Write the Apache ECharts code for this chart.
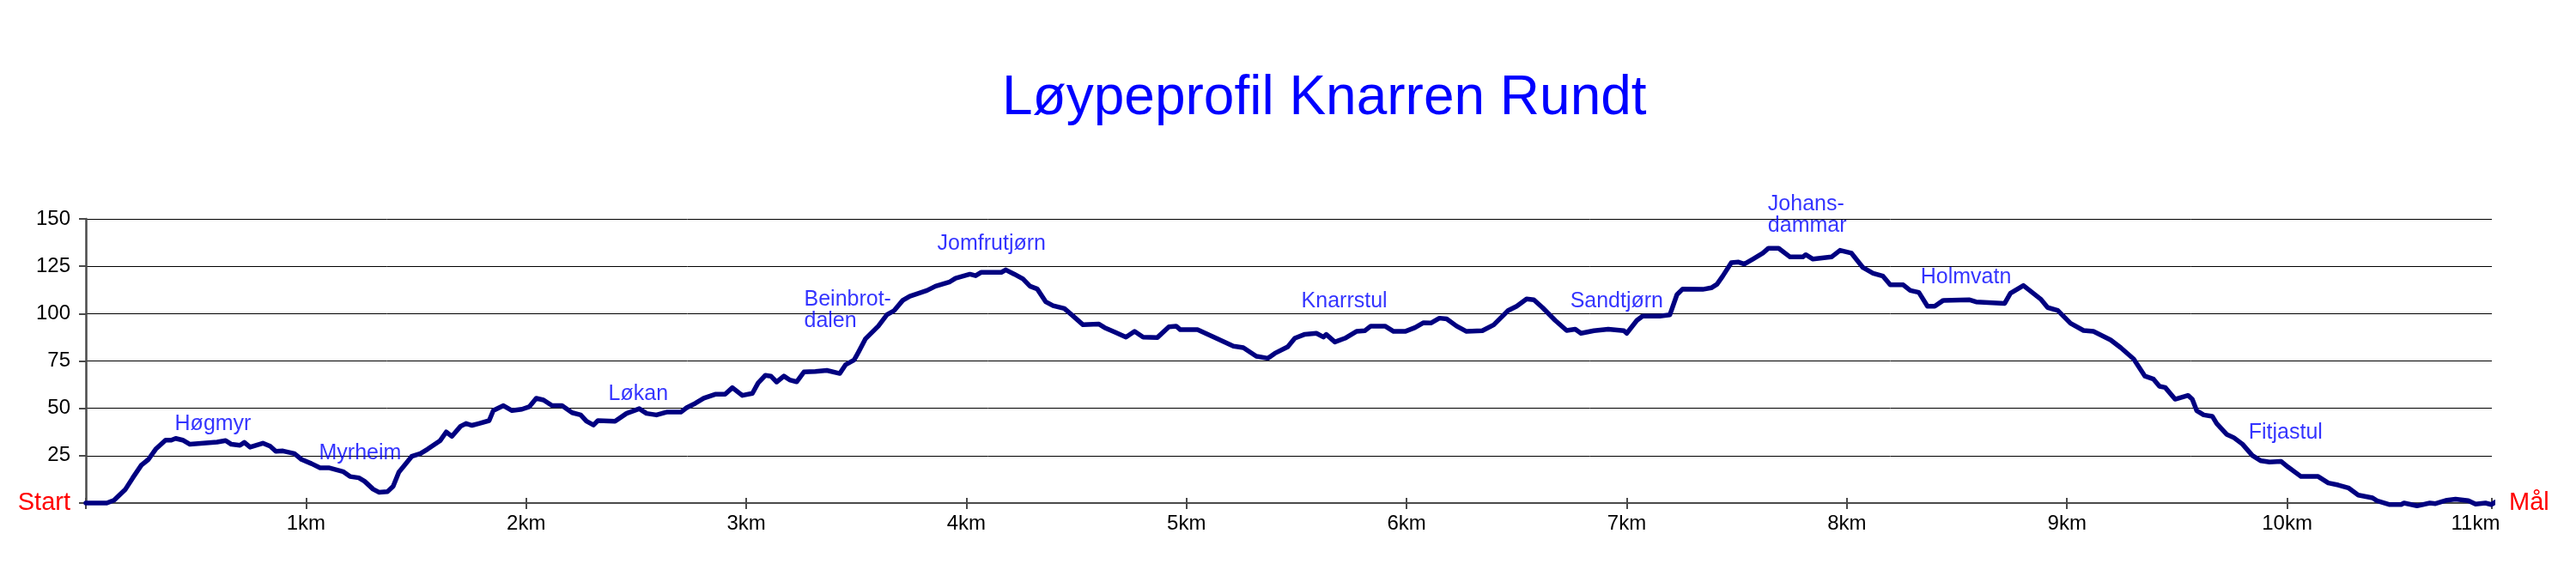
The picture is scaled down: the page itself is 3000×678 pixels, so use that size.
<!DOCTYPE html>
<html>
<head>
<meta charset="utf-8">
<script src="https://cdn.jsdelivr.net/npm/echarts/dist/echarts.min.js"></script>
<style>
html,body{margin:0;padding:0;background:#fff;}
#chart{width:3000px;height:678px;}
</style>
</head>
<body>
<div id="chart"></div>
<script>
// ---- data ----
const titleText = 'Løypeprofil Knarren Rundt';
const distKm = [0,0.095,0.128,0.18,0.213,0.252,0.284,0.317,0.362,0.388,0.408,0.44,0.473,0.596,0.635,0.661,0.7,0.72,0.746,0.804,0.837,0.863,0.895,0.947,0.98,1.025,1.064,1.103,1.168,1.2,1.24,1.266,1.305,1.331,1.37,1.396,1.422,1.454,1.48,1.52,1.552,1.61,1.637,1.663,1.702,1.727,1.754,1.786,1.832,1.851,1.897,1.936,1.981,2.014,2.046,2.079,2.118,2.163,2.209,2.248,2.274,2.306,2.326,2.404,2.456,2.514,2.547,2.592,2.638,2.703,2.729,2.768,2.807,2.859,2.904,2.937,2.982,3.028,3.054,3.087,3.112,3.138,3.171,3.197,3.229,3.262,3.314,3.366,3.425,3.451,3.49,3.509,3.541,3.6,3.639,3.672,3.711,3.743,3.821,3.86,3.925,3.951,4.016,4.042,4.068,4.159,4.179,4.218,4.257,4.289,4.322,4.361,4.394,4.445,4.478,4.53,4.601,4.628,4.673,4.725,4.764,4.803,4.868,4.92,4.953,4.972,5.05,5.135,5.213,5.258,5.317,5.369,5.401,5.46,5.492,5.538,5.59,5.622,5.635,5.674,5.72,5.772,5.811,5.837,5.902,5.941,5.993,6.038,6.077,6.11,6.149,6.182,6.227,6.272,6.344,6.396,6.461,6.5,6.545,6.578,6.617,6.675,6.727,6.766,6.792,6.851,6.916,6.987,7.0,7.046,7.072,7.15,7.196,7.228,7.254,7.345,7.384,7.41,7.436,7.475,7.508,7.534,7.573,7.618,7.644,7.69,7.742,7.8,7.813,7.846,7.93,7.969,8.021,8.073,8.119,8.164,8.197,8.256,8.288,8.327,8.366,8.399,8.438,8.555,8.587,8.717,8.743,8.802,8.88,8.912,8.958,9.016,9.075,9.12,9.198,9.244,9.303,9.354,9.393,9.42,9.446,9.491,9.55,9.569,9.589,9.621,9.66,9.68,9.725,9.758,9.797,9.842,9.881,9.92,9.972,10.004,10.063,10.141,10.187,10.232,10.278,10.323,10.388,10.408,10.466,10.518,10.531,10.59,10.648,10.674,10.726,10.765,10.823,10.856,10.901,10.927,10.946];
const elevM = [0,0,1.5,7.3,13.3,20,23,28.4,33.2,33.2,34.1,33.2,31,32.2,33,31,30.5,32,29.5,31.6,30,27.3,27.5,26.1,23,20.8,18.6,18.6,16.6,14,13.3,11.5,7.3,5.7,6,8.8,16.3,20.8,24.6,26.1,28.4,33,37.5,35.2,40.5,42,41,42,43.5,48.8,51.4,48.8,49.5,50.8,55.3,54.4,51.4,51.4,47.7,46.5,43.2,41.2,43.5,43.2,47.3,49.8,47.3,46.5,48,48,50.3,52.6,55.3,57.4,57.4,60.9,56.8,57.9,63.4,67.4,67,63.9,67,65,64,69.2,69.5,70,68.4,73,75.5,79.5,86.6,93.4,99.4,101.6,107,109.2,112.2,114.5,116.8,118.7,120.8,120,121.8,121.8,123.1,120.8,118.3,114.5,113,106.2,104.2,102.7,99.4,94.1,94.5,92.6,90.3,87.6,90.6,87.6,87.4,93,93.4,91.5,91.5,87,82.8,82,77.5,76.4,79,82.5,87,89.1,89.6,87.6,89,85,87,90.6,91,93.4,93.4,90.6,90.6,92.6,95.2,95,97.6,97.2,93.4,90.6,91,94.1,101.6,103.9,107.7,107.3,103.2,96.4,91.1,91.8,89.6,91,91.8,91,89.6,96.4,98.7,98.7,99.4,110,113,112.8,113.6,115.5,119.8,126.9,127.2,126.2,128.8,131.9,134.5,134.5,129.9,129.9,131.1,128.8,129.9,133.4,131.9,124.3,121.3,119.8,115.2,115.2,112.2,111.2,103.9,103.9,107,107.3,106.2,105.4,110.7,114.8,107.7,103.2,101.7,94.9,91.1,90.6,86.1,82,76,67,65.4,61.6,61,54.8,56.8,54.8,48.8,46.5,45.8,42,36.3,34.5,31.1,25.1,22.3,21.6,22,19,14,14,10.6,9.5,8,4.2,2.7,1.2,-0.8,-0.8,0,-1.5,0,-0.3,1.5,2,1.2,-0.6,0,-0.8,0.5];
const placeNames = ['Høgmyr','Myrheim','Løkan','Beinbrot-\ndalen','Jomfrutjørn','Knarrstul','Sandtjørn','Johans-\ndammar','Holmvatn','Fitjastul'];
const placeKm   = [0.404,1.059,2.374,3.263,3.868,5.522,6.743,7.641,8.335,9.825];
const placeElev = [41.6,26.3,57.6,101.6,137,106.6,106.6,152,119,37.2];
const xTickLabels = ['','1km','2km','3km','4km','5km','6km','7km','8km','9km','10km','11km'];
const yTickValues = [0,25,50,75,100,125,150];
const startLabel = 'Start';
const finishLabel = 'Mål';
const xMax = 10.93;

// ---- chart ----
const chart = echarts.init(document.getElementById('chart'), null, {renderer:'canvas'});
const FONT = "'Liberation Sans', Arial, sans-serif";
const lineData = distKm.map((d,i)=>[d, elevM[i]]);
const placeData = placeNames.map((n,i)=>({name:n, value:[placeKm[i], placeElev[i]]}));

const option = {
  animation:false,
  backgroundColor:'#ffffff',
  title:{
    text:titleText, left:1167, top:83, padding:0,
    textStyle:{fontFamily:FONT, fontSize:64, fontWeight:'normal', color:'#0000ff', lineHeight:64}
  },
  grid:{left:100, right:98, top:255, bottom:92, containLabel:false},
  xAxis:[{
    type:'value', min:0, max:xMax, interval:1, position:'bottom',
    axisLine:{show:true, onZero:false, lineStyle:{color:'#4a4a4a', width:2}},
    axisTick:{show:true, inside:false, length:7, lineStyle:{color:'#4a4a4a', width:2}},
    splitLine:{show:false},
    axisLabel:{
      show:true, margin:12, showMinLabel:true, showMaxLabel:true,
      fontFamily:FONT, fontSize:24, color:'#000',
      formatter:(v,i)=> i === xTickLabels.length-1 ? '{e|'+xTickLabels[i]+'}' : (xTickLabels[i]||''),
      rich:{e:{fontFamily:FONT, fontSize:24, color:'#000', padding:[0,38,0,0]}}
    }
  },{
    type:'value', min:0, max:xMax, interval:1, position:'bottom',
    axisLine:{show:false},
    axisTick:{show:true, inside:true, length:6, lineStyle:{color:'#4a4a4a', width:2}},
    splitLine:{show:false}, axisLabel:{show:false}
  }],
  yAxis:[{
    type:'value', min:yTickValues[0], max:yTickValues[yTickValues.length-1], interval:25, position:'left',
    axisLine:{show:true, onZero:false, lineStyle:{color:'#4a4a4a', width:2.5}},
    axisTick:{show:true, length:8, lineStyle:{color:'#4a4a4a', width:2}},
    splitLine:{show:true, lineStyle:{color:'#000', width:1}},
    axisLabel:{
      margin:18, fontFamily:FONT, fontSize:24, color:'#000',
      formatter:(v)=> v===0 ? '{s|'+startLabel+'}' : String(v),
      rich:{s:{fontFamily:FONT, fontSize:29, color:'#ff0000'}}
    }
  },{
    type:'value', min:yTickValues[0], max:yTickValues[yTickValues.length-1], interval:25, position:'right',
    axisLine:{show:false}, axisTick:{show:false}, splitLine:{show:false},
    axisLabel:{
      margin:20, fontFamily:FONT, fontSize:29, color:'#ff0000',
      formatter:(v)=> v===0 ? finishLabel : ''
    }
  }],
  series:[{
    type:'line', xAxisIndex:0, yAxisIndex:0, data:lineData,
    showSymbol:false, symbol:'none', clip:false, z:5,
    lineStyle:{color:'#000080', width:5.5, join:'round', cap:'round'}
  },{
    type:'scatter', xAxisIndex:0, yAxisIndex:0, data:placeData,
    symbolSize:0, clip:false, z:6, silent:true,
    label:{
      show:true, position:[0,0], align:'left', verticalAlign:'middle',
      formatter:'{b}', fontFamily:FONT, fontSize:25, lineHeight:25, color:'#0000ff'
    }
  }]
};
chart.setOption(option);
</script>
</body>
</html>
